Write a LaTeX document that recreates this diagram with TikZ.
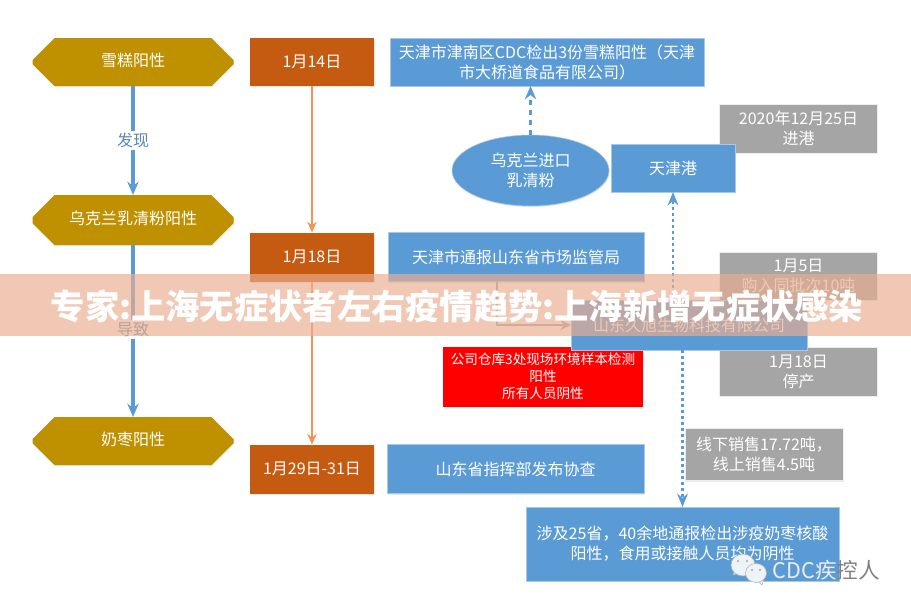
\documentclass[tikz,border=0pt]{standalone}
\usepackage{fontspec}
\setmainfont{Noto Sans CJK SC}
\usepackage{xcolor}
\usetikzlibrary{arrows.meta,positioning,shadows,shapes.geometric,shapes.misc}
\definecolor{goldc}{HTML}{BF9000}
\definecolor{rustc}{HTML}{C55A11}
\definecolor{bluec}{HTML}{5B9BD5}
\definecolor{edgec}{HTML}{A9C8E6}
\definecolor{grayc}{HTML}{A5A5A5}
\definecolor{orangec}{HTML}{F0945A}
\definecolor{labelc}{HTML}{5A86B8}
\definecolor{stripc}{HTML}{E9AD8F}
\definecolor{chatc}{HTML}{EEF3F8}
\tikzset{
	wh/.style 2 args={minimum width=#1*0.75pt, minimum height=#2*0.75pt},
	card/.style={rectangle, inner sep=0pt, outer sep=0pt, text=white, align=center, font=\fontsize{12}{15}\selectfont,
		drop shadow={opacity=.18, shadow xshift=.6pt, shadow yshift=-.8pt}},
	hexa/.style={card, chamfered rectangle, chamfered rectangle xsep=14.5pt, chamfered rectangle ysep=13.5pt, text height=.6em, text depth=0pt, fill=goldc},
	rustbox/.style={card, fill=rustc},
	bluebox/.style={card, fill=bluec, draw=edgec, thin},
	graybox/.style={card, fill=grayc, draw=white!80!grayc, thin},
	redbox/.style={card, fill=red, font=\fontsize{10.2}{12.8}\selectfont},
	solid arrow/.style={-{Stealth[length=10pt,width=8.5pt]}, line width=2.6pt, bluec},
	orange arrow/.style={-{Stealth[length=8pt,width=7pt]}, line width=2pt, orangec},
	dash arrow/.style={-{Stealth[length=10pt,width=8.5pt]}, line width=2.6pt, bluec, dash pattern=on 4pt off 3.5pt},
	dot arrow/.style={-{Stealth[length=10pt,width=8pt]}, line width=2pt, bluec, dash pattern=on 2.4pt off 2.1pt},
	elbow arrow/.style={-{Stealth[length=8pt,width=7.5pt]}, line width=2pt, grayc},
	tag/.style={fill=white, inner sep=1.5pt, text=labelc, font=\fontsize{12}{14}\selectfont},
}

\begin{document}
\begin{tikzpicture}[x=0.75pt, y=-0.75pt]
	\useasboundingbox (0,0) rectangle (911,611);

	% left column
	\node[hexa, wh={201}{48}] (Snow) at (133,62) {雪糕阳性};
	\node[hexa, wh={201}{50}] (Whey) at (133,220) {乌克兰乳清粉阳性};
	\node[hexa, wh={201}{48}] (Date) at (133,441) {奶枣阳性};

	% dates
	\node[rustbox, wh={124}{48}] (DayA) at (312,62) {1月14日};
	\node[rustbox, wh={124}{49}] (DayB) at (312,257) {1月18日};
	\node[rustbox, wh={124}{49}] (DayC) at (312,469) {1月29日-31日};

	% events
	\node[bluebox, wh={314}{48}] (Found) at (547,62) {天津市津南区CDC检出3份雪糕阳性（天津\\市大桥道食品有限公司）};
	\node[bluebox, wh={256}{49}] (Notify) at (516,257) {天津市通报山东省市场监管局};
	\node[bluebox, wh={257}{49}] (Order) at (515.5,469) {山东省指挥部发布协查};
	\node[redbox, wh={200}{60}] (Sample) at (543,376.5) {公司仓库3处现场环境样本检测\\阳性\\所有人员阴性};
	\node[bluebox, ellipse, wh={157}{71}] (Import) at (530.5,170.5) {乌克兰进口\\乳清粉};

	% grey notes sit under the blue boxes
	\node[graybox, wh={158}{49}] (Enter) at (798.5,128.5) {2020年12月25日\\进港};
	\node[graybox, wh={158}{48}] (Buy) at (798.5,276) {1月5日\\购入同批次10吨};
	\node[graybox, wh={158}{49}] (Stop) at (798.5,371.5) {1月18日\\停产};
	\node[graybox, wh={158}{52}] (Sale) at (764,454.5) {线下销售17.72吨，\\线上销售4.5吨};

	\node[bluebox, wh={124}{48}] (Port) at (673,168) {天津港};
	\node[bluebox, wh={236}{50}] (Firm) at (689,325) {山东久旭生物科技有限公司};
	\node[bluebox, wh={313}{74}] (Spread) at (682.5,544) {涉及25省，40余地通报检出涉疫奶枣核酸\\阳性，食用或接触人员均为阴性};

	\coordinate (Elbow) at (497,326);

	\draw[solid arrow] (Snow.south) -- node[tag]{发现} (Whey.north);
	\draw[solid arrow] (Whey.south) -- node[tag, pos=.49]{导致} (Date.north);
	\draw[orange arrow] (DayA.south) -- (DayB.north);
	\draw[orange arrow] (DayB.south) -- (DayC.north);
	\draw[dash arrow] (Import.north) -- (Import.north |- Found.south);
	\draw[dot arrow] (Firm.north -| Port.south) -- (Port.south);
	\draw[dot arrow] (Firm.south -| Spread.north) -- (Spread.north);
	\draw[elbow arrow] (Notify.south -| Elbow) |- (Firm.west);

	% watermark
	\draw[gray!60, fill=chatc, line width=.4pt] (733,575) -- (736,568) -- (742,572) -- cycle;
	\draw[gray!60, fill=chatc, line width=.4pt] (743,565) ellipse (12 and 11);
	\fill[gray!70] (738,561) circle (1.2) (747,561) circle (1.2);
	\draw[gray!60, fill=chatc, line width=.4pt] (762,585) -- (755,578) -- (764,578) -- cycle;
	\draw[gray!60, fill=chatc, line width=.4pt] (756,573) ellipse (10.5 and 9.5);
	\fill[gray!70] (752,570) circle (1.2) (760,570) circle (1.2);
	\node[inner sep=0pt, font=\fontsize{16.2}{18}\selectfont] (Mark) at (826.5,570) {{\color{white!85!gray}CDC疾}{\color{gray}控人}};

	% strip over the whole width
	\fill[stripc, fill opacity=.67] (0,274) rectangle (911,336);
	\node[text=white, inner sep=0pt, font=\fontsize{25.7}{30}\selectfont\bfseries] (Title) at (457,306.5) {专家:上海无症状者左右疫情趋势:上海新增无症状感染};
\end{tikzpicture}
\end{document}
